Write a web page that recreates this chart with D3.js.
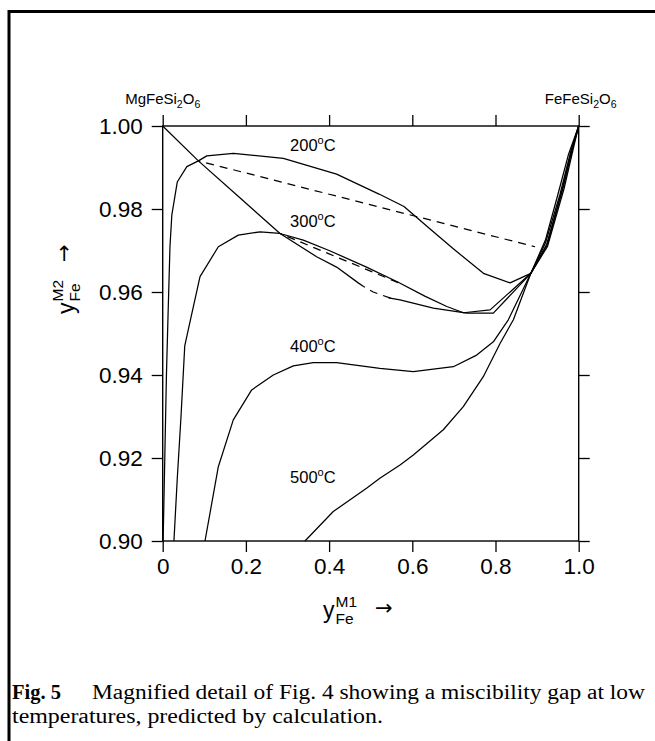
<!DOCTYPE html>
<html lang="en">
<head>
<meta charset="UTF-8">
<title>Fig. 5</title>
<style>
  body { margin: 0; background: #fff; }
  svg { display: block; }
  text { font-family: "Liberation Sans", Arial, Helvetica, sans-serif; fill: #000; }
  .caption { font-family: "Liberation Serif", "Times New Roman", serif; font-size: 20.5px; }
  .arrow { font-family: "DejaVu Sans", sans-serif; }
</style>
</head>
<body>
<svg width="655" height="741"></svg>
<script src="https://d3js.org/d3.v7.min.js"></script>
<script>
// tick values
var xTicks = [0, 0.2, 0.4, 0.6, 0.8, 1.0];
var yTicks = [0.90, 0.92, 0.94, 0.96, 0.98, 1.00];
var xTickLabels = ["0", "0.2", "0.4", "0.6", "0.8", "1.0"];
var yTickLabels = ["0.90", "0.92", "0.94", "0.96", "0.98", "1.00"];

// isotherms: [yFe(M1), yFe(M2)]
var curve200 = [[0.001, 0.90], [0.005, 0.92], [0.009, 0.94], [0.013, 0.955], [0.0175, 0.971],
  [0.022, 0.9786], [0.035, 0.9865], [0.058, 0.9902], [0.0857, 0.9916], [0.106, 0.9928],
  [0.17, 0.9934], [0.29, 0.9922], [0.418, 0.9884], [0.52, 0.9836], [0.58, 0.9806],
  [0.64, 0.9754], [0.70, 0.9703], [0.771, 0.9645], [0.835, 0.9622], [0.885, 0.9645],
  [0.925, 0.9710], [0.965, 0.9850], [0.988, 0.9950], [1.0, 1.0]];

var curve300 = [[0.027, 0.90], [0.035, 0.915], [0.044, 0.93], [0.053, 0.947], [0.066, 0.953],
  [0.0897, 0.9637], [0.1337, 0.9709], [0.1817, 0.9737], [0.234, 0.9745], [0.282, 0.9741],
  [0.338, 0.9725], [0.40, 0.9700], [0.49, 0.9660], [0.565, 0.9624], [0.63, 0.9590],
  [0.683, 0.9565], [0.723, 0.9550], [0.787, 0.9557], [0.885, 0.9645],
  [0.925, 0.9715], [0.96, 0.9845], [0.985, 0.9950], [1.0, 1.0]];

var curve400 = [[0.1017, 0.90], [0.1337, 0.9179], [0.1697, 0.9292], [0.2139, 0.9364],
  [0.2659, 0.9400], [0.314, 0.9422], [0.362, 0.9430], [0.418, 0.9430], [0.522, 0.9416],
  [0.6025, 0.9408], [0.6986, 0.9420], [0.7548, 0.9448], [0.7948, 0.9480], [0.8308, 0.9533],
  [0.885, 0.9645], [0.92, 0.9718], [0.955, 0.9835], [0.98, 0.9935], [1.0, 1.0]];

var curve500 = [[0.342, 0.90], [0.410, 0.9071], [0.490, 0.9127], [0.522, 0.9151],
  [0.5705, 0.9183], [0.6025, 0.9207], [0.6745, 0.9268], [0.7226, 0.9324], [0.7707, 0.9396],
  [0.8109, 0.9476], [0.843, 0.9533], [0.885, 0.9645], [0.92, 0.9725], [0.95, 0.9835],
  [0.975, 0.9930], [1.0, 1.0]];

// phase boundary running down from MgFeSi2O6
var boundaryA = [[0, 1.0], [0.0857, 0.9916], [0.1835, 0.9829], [0.282, 0.9741], [0.37, 0.9685],
  [0.418, 0.9660], [0.47, 0.9622], [0.482, 0.9614]];
var boundaryDash = [[0.482, 0.9614], [0.506, 0.9600], [0.548, 0.9585]];
var boundaryB = [[0.543, 0.9586], [0.5705, 0.9581], [0.6505, 0.9561], [0.7308, 0.9549],
  [0.7948, 0.9549], [0.885, 0.9645], [0.923, 0.9715], [0.962, 0.9850], [0.986, 0.9950], [1.0, 1.0]];

// tie lines
var tie200 = [[0.0857, 0.9916], [0.895, 0.9709]];
var tie300 = [[0.282, 0.9741], [0.5745, 0.9619]];

var tempLabels = ["200", "300", "400", "500"];
var tempLabelX = [0.361, 0.361, 0.361, 0.361];
var tempLabelY = [0.99397, 0.97566, 0.94554, 0.91398];

var svg = d3.select("svg");
var margin = { left: 162.7, right: 76.3, top: 126, bottom: 200 };
var width = 655 - margin.left - margin.right,
    height = 741 - margin.top - margin.bottom;

var x = d3.scaleLinear().domain([0, 1]).range([margin.left, margin.left + width]);
var y = d3.scaleLinear().domain([0.90, 1.00]).range([margin.top + height, margin.top]);

// page frame
svg.append("path")
  .attr("d", "M9,741 V11.5 H655")
  .attr("fill", "none").attr("stroke", "#000").attr("stroke-width", 3);

// plot box
svg.append("rect")
  .attr("x", x(0)).attr("y", y(1))
  .attr("width", x(1) - x(0)).attr("height", y(0.9) - y(1))
  .attr("fill", "none").attr("stroke", "#000").attr("stroke-width", 1.4);

var tick = 11;
var axisB = d3.axisBottom(x).tickValues(xTicks).tickSize(tick).tickPadding(6)
  .tickFormat(function (d, i) { return xTickLabels[i]; });
var axisT = d3.axisTop(x).tickValues(xTicks).tickSize(tick).tickFormat("");
var axisL = d3.axisLeft(y).tickValues(yTicks).tickSize(tick).tickPadding(9)
  .tickFormat(function (d, i) { return yTickLabels[i]; });
var axisR = d3.axisRight(y).tickValues(yTicks).tickSize(tick).tickFormat("");

function styleAxis(g) {
  g.attr("font-size", 22.5).attr("font-family", "'Liberation Sans', Arial, sans-serif");
  g.select(".domain").remove();
  g.selectAll("line").attr("stroke", "#000").attr("stroke-width", 1.3);
  g.selectAll("text").attr("fill", "#000");
}

svg.append("g").attr("transform", "translate(0," + y(0.9) + ")").call(axisB).call(styleAxis);
svg.append("g").attr("transform", "translate(0," + y(1) + ")").call(axisT).call(styleAxis);
svg.append("g").attr("transform", "translate(" + x(0) + ",0)").call(axisL).call(styleAxis);
svg.append("g").attr("transform", "translate(" + x(1) + ",0)").call(axisR).call(styleAxis);

// curves
var line = d3.line().x(function (d) { return x(d[0]); }).y(function (d) { return y(d[1]); });

var solid = [curve200, curve300, curve400, curve500, boundaryA, boundaryB];
svg.append("g").selectAll("path").data(solid).enter().append("path")
  .attr("d", line)
  .attr("fill", "none").attr("stroke", "#000").attr("stroke-width", 1.25)
  .attr("stroke-linejoin", "round");

var dashed = [tie200, tie300, boundaryDash];
svg.append("g").selectAll("path").data(dashed).enter().append("path")
  .attr("d", line)
  .attr("fill", "none").attr("stroke", "#000").attr("stroke-width", 1.25)
  .attr("stroke-dasharray", "8,6").attr("stroke-dashoffset", -8);

// temperature labels
var tl = svg.append("g").selectAll("text").data(tempLabels).enter().append("text")
  .attr("x", function (d, i) { return x(tempLabelX[i]); })
  .attr("y", function (d, i) { return y(tempLabelY[i]); })
  .attr("text-anchor", "middle").attr("font-size", 16.5);
tl.append("tspan").text(function (d) { return d; });
tl.append("tspan").attr("font-size", 11).attr("dy", -7).text("o");
tl.append("tspan").attr("dy", 7).text("C");

// end-member labels
function formula(px, py, a) {
  var t = svg.append("text").attr("x", px).attr("y", py).attr("text-anchor", "middle").attr("font-size", 15);
  t.append("tspan").text(a + "FeSi");
  t.append("tspan").attr("font-size", 10.5).attr("dy", 4).text("2");
  t.append("tspan").attr("dy", -4).text("O");
  t.append("tspan").attr("font-size", 10.5).attr("dy", 4).text("6");
}
formula(x(0), 104, "Mg");
formula(x(1) + 2, 104, "Fe");

// axis titles: y with Fe subscript and M superscript, then arrow
function axisTitle(g, sup) {
  g.append("text").attr("x", 0).attr("y", 0).attr("font-size", 23).text("y");
  g.append("text").attr("x", 12.5).attr("y", -11).attr("font-size", 15.5).text(sup);
  g.append("text").attr("x", 12.5).attr("y", 6).attr("font-size", 15.5).text("Fe");
  g.append("text").attr("class", "arrow").attr("x", 52).attr("y", -3).attr("font-size", 21).text("\u2192");
}
axisTitle(svg.append("g").attr("transform", "translate(323,618)"), "M1");
axisTitle(svg.append("g").attr("transform", "translate(74,314) rotate(-90)"), "M2");

// caption
svg.append("text").attr("class", "caption").attr("x", 12).attr("y", 699)
  .attr("font-weight", "bold").text("Fig. 5");
svg.append("text").attr("class", "caption").attr("x", 92).attr("y", 699)
  .attr("textLength", 553).attr("lengthAdjust", "spacingAndGlyphs")
  .text("Magnified detail of Fig. 4 showing a miscibility gap at low");
svg.append("text").attr("class", "caption").attr("x", 12).attr("y", 723)
  .attr("textLength", 371).attr("lengthAdjust", "spacingAndGlyphs")
  .text("temperatures, predicted by calculation.");
</script>
</body>
</html>
